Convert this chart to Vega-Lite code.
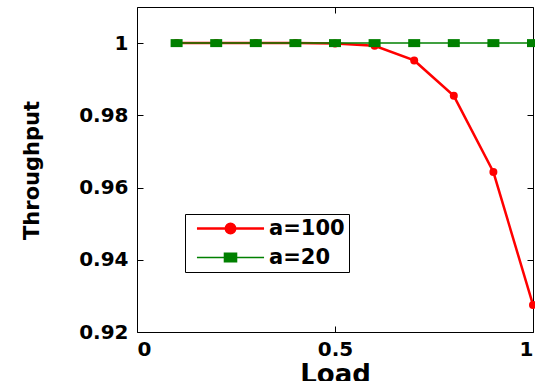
{
  "$schema": "https://vega.github.io/schema/vega-lite/v6.json",
  "width": 396,
  "height": 325,
  "autosize": {"type": "none"},
  "padding": {"left": 137, "top": 7, "right": 2, "bottom": 49},
  "background": "white",
  "data": {
    "values": [
      {"load": 0.1, "throughput": 1.0, "series": "a=100"},
      {"load": 0.2, "throughput": 1.0, "series": "a=100"},
      {"load": 0.3, "throughput": 1.0, "series": "a=100"},
      {"load": 0.4, "throughput": 1.0, "series": "a=100"},
      {"load": 0.5, "throughput": 0.9999, "series": "a=100"},
      {"load": 0.6, "throughput": 0.99925, "series": "a=100"},
      {"load": 0.7, "throughput": 0.9952, "series": "a=100"},
      {"load": 0.8, "throughput": 0.9854, "series": "a=100"},
      {"load": 0.9, "throughput": 0.9643, "series": "a=100"},
      {"load": 1.0, "throughput": 0.9275, "series": "a=100"},
      {"load": 0.1, "throughput": 1.0, "series": "a=20"},
      {"load": 0.2, "throughput": 1.0, "series": "a=20"},
      {"load": 0.3, "throughput": 1.0, "series": "a=20"},
      {"load": 0.4, "throughput": 1.0, "series": "a=20"},
      {"load": 0.5, "throughput": 1.0, "series": "a=20"},
      {"load": 0.6, "throughput": 1.0, "series": "a=20"},
      {"load": 0.7, "throughput": 1.0, "series": "a=20"},
      {"load": 0.8, "throughput": 1.0, "series": "a=20"},
      {"load": 0.9, "throughput": 1.0, "series": "a=20"},
      {"load": 1.0, "throughput": 1.0, "series": "a=20"}
    ]
  },
  "config": {
    "view": {"stroke": "#000", "strokeWidth": 1},
    "axis": {
      "grid": false,
      "domain": false,
      "tickColor": "#000",
      "tickSize": -6,
      "labelFont": "DejaVu Sans",
      "labelFontWeight": "bold",
      "labelFontSize": 20,
      "labelColor": "#000",
      "titleColor": "#000",
      "titleFontWeight": "bold"
    }
  },
  "layer": [
    {
      "mark": {"type": "line"},
      "encoding": {
        "x": {
          "field": "load", "type": "quantitative",
          "scale": {"domain": [0, 1], "nice": false},
          "axis": {"values": [0, 0.5, 1], "format": ".1~f", "title": "Load", "labelPadding": 13,
                   "titleFont": "DejaVu Sans", "titleFontSize": 26, "titleBaseline": "top", "titleX": 198, "titleY": 29, "titleAnchor": "middle"}
        },
        "y": {
          "field": "throughput", "type": "quantitative",
          "scale": {"domain": [0.92, 1.01], "nice": false, "zero": false},
          "axis": {"values": [0.92, 0.94, 0.96, 0.98, 1], "format": ".2~f", "title": "Throughput", "labelPadding": 15,
                   "titleFont": "DejaVu Sans", "titleFontSize": 21, "titleAngle": -90, "titleBaseline": "bottom", "titleX": -95, "titleY": 163, "titleAlign": "center"}
        },
        "color": {
          "field": "series", "type": "nominal",
          "scale": {"domain": ["a=100", "a=20"], "range": ["#ff0000", "#008000"]},
          "legend": {
            "orient": "none", "legendX": 48, "legendY": 207, "title": null,
            "labelFont": "DejaVu Sans", "labelFontWeight": "bold", "labelFontSize": 21, "labelColor": "#000",
            "labelExpr": "datum.label + '   '",
            "strokeColor": "#000", "fillColor": "#fff", "padding": 4, "rowPadding": 7,
            "symbolOffset": 31, "labelOffset": 28,
            "symbolSize": 180,
            "encode": {
              "symbols": {
                "update": {
                  "shape": {"signal": "datum.value === 'a=100' ? 'M-5,0H5M-0.7,0A0.7,0.7,0,1,1,0.7,0A0.7,0.7,0,1,1,-0.7,0Z' : 'M-5,0H5M-0.9,-0.65H0.9V0.65H-0.9Z'"},
                  "stroke": {"signal": "datum.value === 'a=100' ? '#ff0000' : '#008000'"},
                  "fill": {"signal": "datum.value === 'a=100' ? '#ff0000' : '#008000'"},
                  "strokeWidth": {"value": 1.5},
                  "size": {"value": 180},
                  "opacity": {"value": 1}
                }
              }
            }
          }
        },
        "strokeWidth": {
          "field": "series", "type": "nominal",
          "scale": {"domain": ["a=100", "a=20"], "range": [2.5, 1.5]},
          "legend": null
        }
      }
    },
    {
      "transform": [{"filter": "datum.series === 'a=100'"}],
      "mark": {"type": "point", "filled": true, "opacity": 1, "shape": "circle", "size": 64},
      "encoding": {
        "x": {"field": "load", "type": "quantitative", "axis": {"orient": "top", "labels": false, "title": null, "values": [0, 0.5, 1]}},
        "y": {"field": "throughput", "type": "quantitative", "axis": {"orient": "right", "labels": false, "title": null, "values": [0.92, 0.94, 0.96, 0.98, 1]}},
        "color": {"field": "series", "type": "nominal"}
      }
    },
    {
      "transform": [{"filter": "datum.series === 'a=20'"}],
      "mark": {"type": "point", "filled": true, "opacity": 1, "shape": "M-1.5,-1H1.5V1H-1.5Z", "size": 64},
      "encoding": {
        "x": {"field": "load", "type": "quantitative", "axis": null},
        "y": {"field": "throughput", "type": "quantitative", "axis": null},
        "color": {"field": "series", "type": "nominal"}
      }
    }
  ],
  "resolve": {"axis": {"x": "independent", "y": "independent"}}
}
